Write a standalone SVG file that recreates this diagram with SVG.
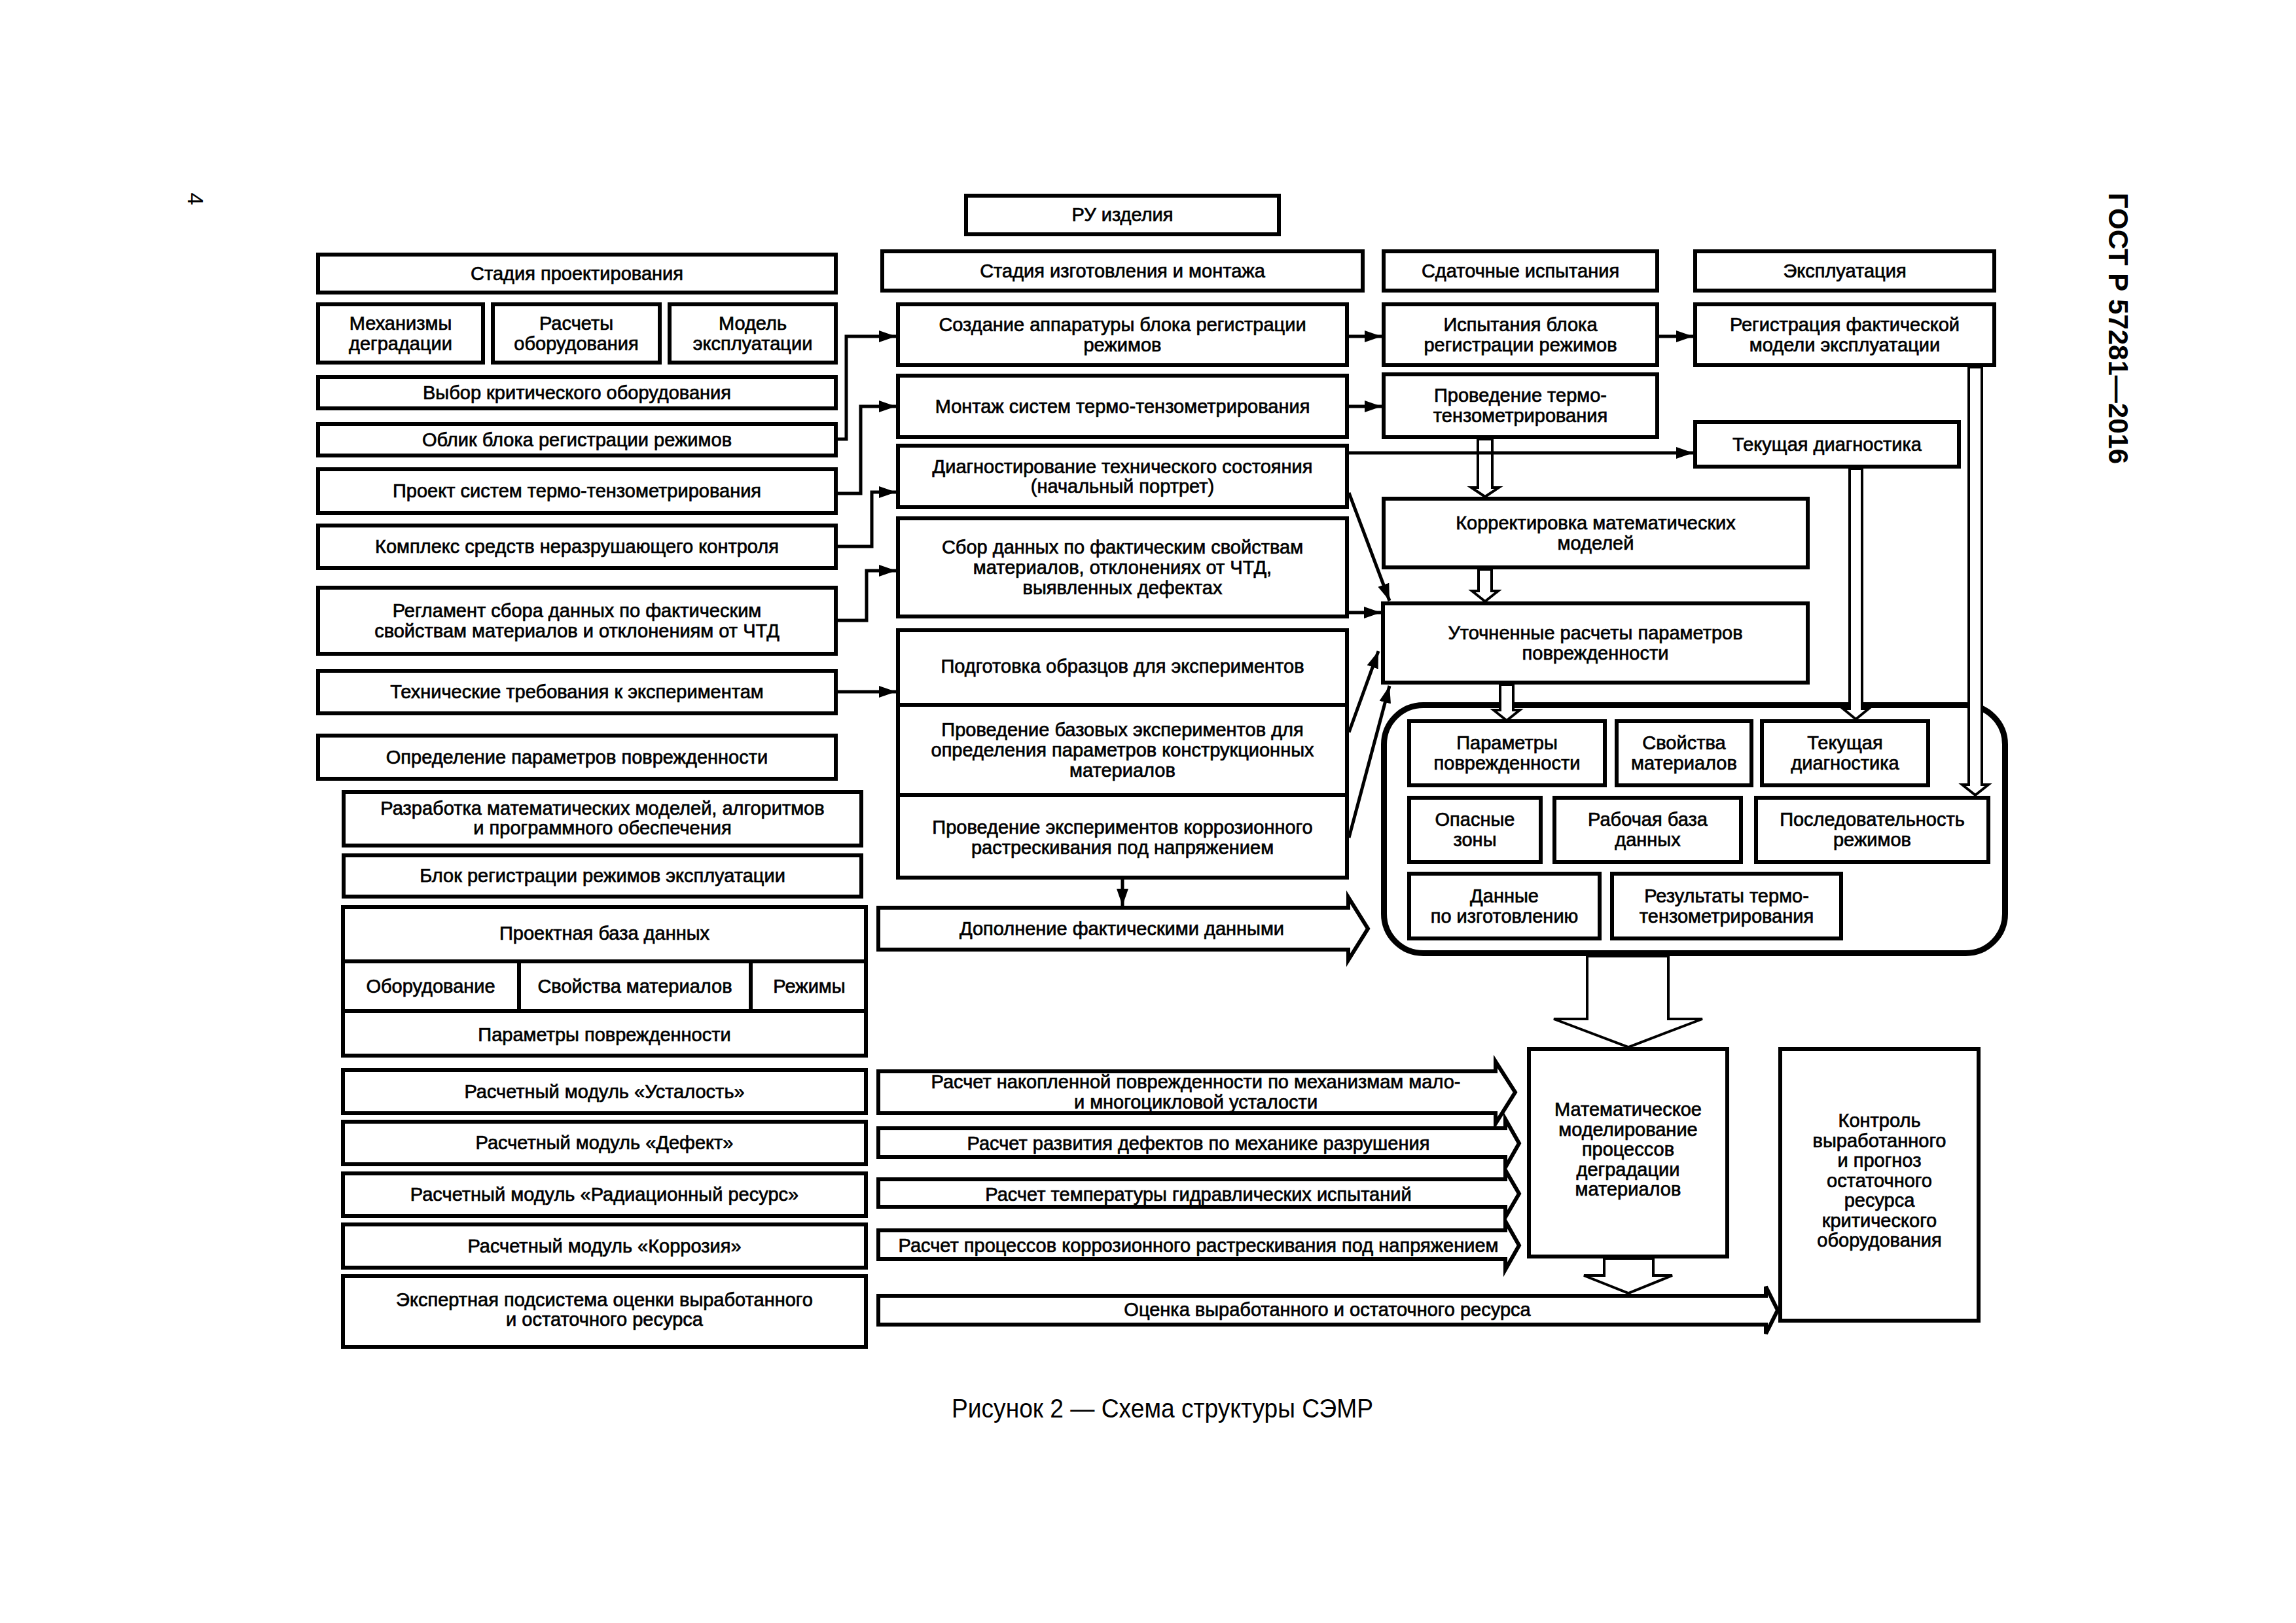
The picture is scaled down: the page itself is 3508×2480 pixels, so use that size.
<svg xmlns="http://www.w3.org/2000/svg" width="3508" height="2480" viewBox="0 0 3508 2480">
<defs>
<marker id="ah" markerUnits="userSpaceOnUse" markerWidth="26" markerHeight="18" refX="26" refY="9" orient="auto"><path d="M0,0 L26,9 L0,18 z" fill="#000"/></marker>
<style>
.b{fill:#fff;stroke:#000;stroke-width:6}
.k{fill:#fff;stroke:#000;stroke-width:9}
.t{font-family:"Liberation Sans",Arial,sans-serif;font-size:29px;text-anchor:middle;fill:#000;stroke:#000;stroke-width:0.7px}
.c{fill:none;stroke:#000;stroke-width:5;marker-end:url(#ah)}
.h{fill:#fff;stroke:#000;stroke-width:4}
.d{fill:none;stroke:#000;stroke-width:6}
</style>
</defs>
<rect width="3508" height="2480" fill="#fff"/>
<text x="287" y="304" transform="rotate(90 287 304)" style="font-family:'Liberation Sans',Arial,sans-serif;font-size:34px;text-anchor:middle">4</text>
<text x="3222" y="502" transform="rotate(90 3222 502)" style="font-family:'Liberation Sans',Arial,sans-serif;font-size:42px;font-weight:bold;text-anchor:middle">ГОСТ Р 57281—2016</text>
<text x="1776" y="2166" textLength="644" lengthAdjust="spacingAndGlyphs" style="font-family:'Liberation Sans',Arial,sans-serif;font-size:40px;text-anchor:middle">Рисунок 2 — Схема структуры СЭМР</text>

<g id="stage-design"><rect class="b" x="486" y="389" width="791" height="58"/><text class="t" x="881.5" y="428">Стадия проектирования</text></g>
<g id="mech"><rect class="b" x="486" y="465" width="252" height="89"/><text class="t" x="612" y="504">Механизмы</text><text class="t" x="612" y="535">деградации</text></g>
<g id="calc"><rect class="b" x="753" y="465" width="255" height="89"/><text class="t" x="880.5" y="504">Расчеты</text><text class="t" x="880.5" y="535">оборудования</text></g>
<g id="model"><rect class="b" x="1023" y="465" width="254" height="89"/><text class="t" x="1150" y="504">Модель</text><text class="t" x="1150" y="535">эксплуатации</text></g>
<g id="choose"><rect class="b" x="486" y="576" width="791" height="48"/><text class="t" x="881.5" y="610">Выбор критического оборудования</text></g>
<g id="oblik"><rect class="b" x="486" y="648" width="791" height="48"/><text class="t" x="881.5" y="682">Облик блока регистрации режимов</text></g>
<g id="project"><rect class="b" x="486" y="717" width="791" height="67"/><text class="t" x="881.5" y="760">Проект систем термо-тензометрирования</text></g>
<g id="complex"><rect class="b" x="486" y="803" width="791" height="65"/><text class="t" x="881.5" y="845">Комплекс средств неразрушающего контроля</text></g>
<g id="reglament"><rect class="b" x="486" y="898" width="791" height="101"/><text class="t" x="881.5" y="943">Регламент сбора данных по фактическим</text><text class="t" x="881.5" y="974">свойствам материалов и отклонениям от ЧТД</text></g>
<g id="tech"><rect class="b" x="486" y="1025" width="791" height="65"/><text class="t" x="881.5" y="1067">Технические требования к экспериментам</text></g>
<g id="define"><rect class="b" x="486" y="1124" width="791" height="66"/><text class="t" x="881.5" y="1167">Определение параметров поврежденности</text></g>
<g id="razrab"><rect class="b" x="525" y="1210" width="791" height="82"/><text class="t" x="920.5" y="1245">Разработка математических моделей, алгоритмов</text><text class="t" x="920.5" y="1275">и программного обеспечения</text></g>
<g id="blok"><rect class="b" x="525" y="1307" width="791" height="63"/><text class="t" x="920.5" y="1348">Блок регистрации режимов эксплуатации</text></g>
<g id="project-db"><rect class="b" x="524" y="1386" width="799" height="227"/>
<line class="d" x1="524" y1="1469" x2="1323" y2="1469"/><line class="d" x1="524" y1="1545" x2="1323" y2="1545"/>
<line class="d" x1="793" y1="1469" x2="793" y2="1545"/><line class="d" x1="1147" y1="1469" x2="1147" y2="1545"/>
<text class="t" x="923.5" y="1436">Проектная база данных</text>
<text class="t" x="658" y="1517">Оборудование</text><text class="t" x="970" y="1517">Свойства материалов</text><text class="t" x="1236.5" y="1517">Режимы</text>
<text class="t" x="923.5" y="1591">Параметры поврежденности</text></g>
<g id="mod-fatigue"><rect class="b" x="524" y="1635" width="799" height="66"/><text class="t" x="923.5" y="1678">Расчетный модуль «Усталость»</text></g>
<g id="mod-defect"><rect class="b" x="524" y="1714" width="799" height="65"/><text class="t" x="923.5" y="1756">Расчетный модуль «Дефект»</text></g>
<g id="mod-rad"><rect class="b" x="524" y="1793" width="799" height="65"/><text class="t" x="923.5" y="1835">Расчетный модуль «Радиационный ресурс»</text></g>
<g id="mod-corr"><rect class="b" x="524" y="1871" width="799" height="66"/><text class="t" x="923.5" y="1914">Расчетный модуль «Коррозия»</text></g>
<g id="expert"><rect class="b" x="524" y="1950" width="799" height="108"/><text class="t" x="923.5" y="1996">Экспертная подсистема оценки выработанного</text><text class="t" x="923.5" y="2026">и остаточного ресурса</text></g>

<g id="ru"><rect class="b" x="1476" y="299" width="478" height="59"/><text class="t" x="1715" y="338">РУ изделия</text></g>
<g id="stage-manuf"><rect class="b" x="1348" y="384" width="734" height="60"/><text class="t" x="1715" y="424">Стадия изготовления и монтажа</text></g>
<g id="sozdanie"><rect class="b" x="1372" y="465" width="686" height="93"/><text class="t" x="1715" y="506">Создание аппаратуры блока регистрации</text><text class="t" x="1715" y="537">режимов</text></g>
<g id="montazh"><rect class="b" x="1372" y="574" width="686" height="94"/><text class="t" x="1715" y="631">Монтаж систем термо-тензометрирования</text></g>
<g id="diag"><rect class="b" x="1372" y="681" width="686" height="94"/><text class="t" x="1715" y="723">Диагностирование технического состояния</text><text class="t" x="1715" y="753">(начальный портрет)</text></g>
<g id="sbor"><rect class="b" x="1372" y="792" width="686" height="150"/><text class="t" x="1715" y="846">Сбор данных по фактическим свойствам</text><text class="t" x="1715" y="877">материалов, отклонениях от ЧТД,</text><text class="t" x="1715" y="908">выявленных дефектах</text></g>
<g id="experiments"><rect class="b" x="1372" y="963" width="686" height="378"/>
<line class="d" x1="1372" y1="1077" x2="2058" y2="1077"/><line class="d" x1="1372" y1="1215" x2="2058" y2="1215"/>
<text class="t" x="1715" y="1028">Подготовка образцов для экспериментов</text>
<text class="t" x="1715" y="1125">Проведение базовых экспериментов для</text><text class="t" x="1715" y="1156">определения параметров конструкционных</text><text class="t" x="1715" y="1187">материалов</text>
<text class="t" x="1715" y="1274">Проведение экспериментов коррозионного</text><text class="t" x="1715" y="1305">растрескивания под напряжением</text></g>
<g id="dopolnenie"><polygon class="b" points="1342,1387 2060,1387 2060,1371 2090,1419 2060,1467 2060,1451 1342,1451"/><text class="t" x="1714" y="1429">Дополнение фактическими данными</text></g>

<g id="stage-test"><rect class="b" x="2114" y="384" width="418" height="60"/><text class="t" x="2323" y="424">Сдаточные испытания</text></g>
<g id="stage-oper"><rect class="b" x="2590" y="384" width="457" height="60"/><text class="t" x="2818.5" y="424">Эксплуатация</text></g>
<g id="ispyt"><rect class="b" x="2114" y="465" width="418" height="93"/><text class="t" x="2323" y="506">Испытания блока</text><text class="t" x="2323" y="537">регистрации режимов</text></g>
<g id="registr"><rect class="b" x="2590" y="465" width="457" height="93"/><text class="t" x="2818.5" y="506">Регистрация фактической</text><text class="t" x="2818.5" y="537">модели эксплуатации</text></g>
<g id="provterm"><rect class="b" x="2114" y="572" width="418" height="96"/><text class="t" x="2323" y="614">Проведение термо-</text><text class="t" x="2323" y="645">тензометрирования</text></g>
<g id="tekdiag"><rect class="b" x="2590" y="645" width="403" height="68"/><text class="t" x="2791.5" y="689">Текущая диагностика</text></g>
<g id="korrekt"><rect class="b" x="2114" y="762" width="648" height="105"/><text class="t" x="2438" y="809">Корректировка математических</text><text class="t" x="2438" y="840">моделей</text></g>
<g id="utoch"><rect class="b" x="2113" y="922" width="649" height="121"/><text class="t" x="2437.5" y="977">Уточненные расчеты параметров</text><text class="t" x="2437.5" y="1008">поврежденности</text></g>
<g id="workdb">
<rect class="k" x="2114.5" y="1077.5" width="949" height="379" rx="60" ry="60"/>
<g id="w-param"><rect class="b" x="2153" y="1102" width="299" height="98"/><text class="t" x="2302.5" y="1145">Параметры</text><text class="t" x="2302.5" y="1176">поврежденности</text></g>
<g id="w-svoistva"><rect class="b" x="2470" y="1102" width="206" height="98"/><text class="t" x="2573" y="1145">Свойства</text><text class="t" x="2573" y="1176">материалов</text></g>
<g id="w-tek"><rect class="b" x="2692" y="1102" width="254" height="98"/><text class="t" x="2819" y="1145">Текущая</text><text class="t" x="2819" y="1176">диагностика</text></g>
<g id="w-opasn"><rect class="b" x="2153" y="1219" width="201" height="98"/><text class="t" x="2253.5" y="1262">Опасные</text><text class="t" x="2253.5" y="1293">зоны</text></g>
<g id="w-rab"><rect class="b" x="2375" y="1219" width="285" height="98"/><text class="t" x="2517.5" y="1262">Рабочая база</text><text class="t" x="2517.5" y="1293">данных</text></g>
<g id="w-posled"><rect class="b" x="2683" y="1219" width="355" height="98"/><text class="t" x="2860.5" y="1262">Последовательность</text><text class="t" x="2860.5" y="1293">режимов</text></g>
<g id="w-dannye"><rect class="b" x="2153" y="1335" width="291" height="99"/><text class="t" x="2298.5" y="1379">Данные</text><text class="t" x="2298.5" y="1410">по изготовлению</text></g>
<g id="w-rezult"><rect class="b" x="2463" y="1335" width="350" height="99"/><text class="t" x="2638" y="1379">Результаты термо-</text><text class="t" x="2638" y="1410">тензометрирования</text></g>
</g>
<g id="math"><rect class="b" x="2336" y="1603" width="303" height="317"/>
<text class="t" x="2487.5" y="1705">Математическое</text><text class="t" x="2487.5" y="1735.5">моделирование</text><text class="t" x="2487.5" y="1766">процессов</text><text class="t" x="2487.5" y="1796.5">деградации</text><text class="t" x="2487.5" y="1827">материалов</text></g>
<g id="control"><rect class="b" x="2720" y="1603" width="303" height="415"/>
<text class="t" x="2871.5" y="1722">Контроль</text><text class="t" x="2871.5" y="1752.5">выработанного</text><text class="t" x="2871.5" y="1783">и прогноз</text><text class="t" x="2871.5" y="1813.5">остаточного</text><text class="t" x="2871.5" y="1844">ресурса</text><text class="t" x="2871.5" y="1874.5">критического</text><text class="t" x="2871.5" y="1905">оборудования</text></g>

<g id="calc-fatigue"><polygon class="b" points="1342,1637 2285,1637 2285,1622 2315,1669 2285,1717 2285,1701 1342,1701"/><text class="t" x="1827" y="1663">Расчет накопленной поврежденности по механизмам мало-</text><text class="t" x="1827" y="1694">и многоцикловой усталости</text></g>
<g id="calc-defect"><polygon class="b" points="1342,1724 2300,1724 2300,1710 2321,1747 2300,1784 2300,1768 1342,1768"/><text class="t" x="1831" y="1757">Расчет развития дефектов по механике разрушения</text></g>
<g id="calc-temp"><polygon class="b" points="1342,1802 2300,1802 2300,1788 2321,1824 2300,1860 2300,1844 1342,1844"/><text class="t" x="1831" y="1835">Расчет температуры гидравлических испытаний</text></g>
<g id="calc-corr"><polygon class="b" points="1342,1880 2300,1880 2300,1866 2321,1903 2300,1940 2300,1924 1342,1924"/><text class="t" x="1831" y="1913">Расчет процессов коррозионного растрескивания под напряжением</text></g>
<g id="estimate"><polygon class="b" points="1342,1980 2698,1980 2698,1966 2716,2002 2698,2038 2698,2024 1342,2024"/><text class="t" x="2028" y="2011">Оценка выработанного и остаточного ресурса</text></g>

<g id="connectors">
<polyline class="c" points="1280,671 1293,671 1293,514 1369,514"/>
<polyline class="c" points="1280,754 1315,754 1315,621 1369,621"/>
<polyline class="c" points="1280,835 1332,835 1332,752 1369,752"/>
<polyline class="c" points="1280,948 1324,948 1324,872 1369,872"/>
<line class="c" x1="1280" y1="1057" x2="1369" y2="1057"/>
<line class="c" x1="2061" y1="514" x2="2111" y2="514"/>
<line class="c" x1="2061" y1="621" x2="2111" y2="621"/>
<line class="c" x1="2535" y1="514" x2="2587" y2="514"/>
<line class="c" x1="2061" y1="936" x2="2110" y2="936"/>
<line class="c" x1="2061" y1="753" x2="2123" y2="918"/>
<line class="c" x1="2061" y1="1119" x2="2106" y2="995"/>
<line class="c" x1="2061" y1="1280" x2="2123" y2="1048"/>
<line class="c" x1="1715" y1="1344" x2="1715" y2="1384"/>
<polygon class="h" points="2258,671 2258,745 2248,745 2269,759 2290,745 2280,745 2280,671"/>
<line class="c" x1="2061" y1="692" x2="2587" y2="692"/>
<polygon class="h" points="2259,870 2259,903 2249,903 2269,919 2289,903 2279,903 2279,870"/>
<polygon class="h" points="2292,1046 2292,1085 2282,1085 2302,1101 2322,1085 2312,1085 2312,1046"/>
<polygon class="h" points="2826,716 2826,1083 2816,1083 2835.5,1099 2855,1083 2845,1083 2845,716"/>
<polygon class="h" points="3008,561 3008,1199 2998,1199 3018,1215 3038,1199 3028,1199 3028,561"/>
<polygon class="h" points="2425,1461 2425,1557 2374,1557 2488,1600 2601,1557 2549,1557 2549,1461"/>
<polygon class="h" points="2451,1923 2451,1949 2420,1949 2488,1976 2555,1949 2526,1949 2526,1923"/>
</g>
</svg>
